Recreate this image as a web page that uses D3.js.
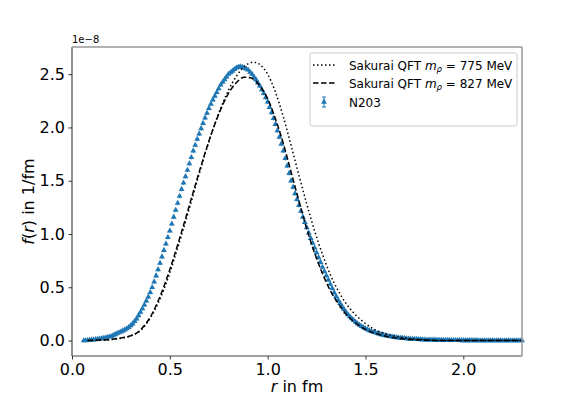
<!DOCTYPE html>
<html>
<head>
<meta charset="utf-8">
<script src="https://cdn.jsdelivr.net/npm/d3@7"></script>
<style>
body { margin: 0; background: #fff; }
text { font-family: "DejaVu Sans", sans-serif; fill: #000; }
</style>
</head>
<body>
<div id="graph"></div>
<script>
// N203 lattice data (units of 1e-8)
const rN203 = [
	0.06,0.07,0.08,0.09,0.10,0.11,0.12,0.13,0.14,0.15,
	0.16,0.17,0.18,0.19,0.20,0.21,0.22,0.23,0.24,0.25,
	0.26,0.27,0.28,0.29,0.30,0.31,0.32,0.33,0.34,0.35,
	0.36,0.37,0.38,0.39,0.40,0.41,0.42,0.43,0.44,0.45,
	0.46,0.47,0.48,0.49,0.50,0.51,0.52,0.53,0.54,0.55,
	0.56,0.57,0.58,0.59,0.60,0.61,0.62,0.63,0.64,0.65,
	0.66,0.67,0.68,0.69,0.70,0.71,0.72,0.73,0.74,0.75,
	0.76,0.77,0.78,0.79,0.80,0.81,0.82,0.83,0.84,0.85,
	0.86,0.87,0.88,0.89,0.90,0.91,0.92,0.93,0.94,0.95,
	0.96,0.97,0.98,0.99,1.00,1.01,1.02,1.03,1.04,1.05,
	1.06,1.07,1.08,1.09,1.10,1.11,1.12,1.13,1.14,1.15,
	1.16,1.17,1.18,1.19,1.20,1.21,1.22,1.23,1.24,1.25,
	1.26,1.27,1.28,1.29,1.30,1.31,1.32,1.33,1.34,1.35,
	1.36,1.37,1.38,1.39,1.40,1.41,1.42,1.43,1.44,1.45,
	1.46,1.47,1.48,1.49,1.50,1.51,1.52,1.53,1.54,1.55,
	1.56,1.57,1.58,1.59,1.60,1.61,1.62,1.63,1.64,1.65,
	1.66,1.67,1.68,1.69,1.70,1.71,1.72,1.73,1.74,1.75,
	1.76,1.77,1.78,1.79,1.80,1.81,1.82,1.83,1.84,1.85,
	1.86,1.87,1.88,1.89,1.90,1.91,1.92,1.93,1.94,1.95,
	1.96,1.97,1.98,1.99,2.00,2.01,2.02,2.03,2.04,2.05,
	2.06,2.07,2.08,2.09,2.10,2.11,2.12,2.13,2.14,2.15,
	2.16,2.17,2.18,2.19,2.20,2.21,2.22,2.23,2.24,2.25,
	2.26,2.27,2.28,2.29,2.30
];
const fN203 = [
	0.000,0.000,0.002,0.004,0.006,0.008,0.010,0.013,0.016,0.019,
	0.022,0.026,0.030,0.035,0.040,0.048,0.057,0.066,0.075,0.083,
	0.092,0.101,0.112,0.124,0.140,0.158,0.180,0.205,0.235,0.267,
	0.300,0.335,0.372,0.410,0.452,0.500,0.552,0.608,0.667,0.727,
	0.787,0.848,0.908,0.969,1.030,1.095,1.160,1.225,1.290,1.355,
	1.420,1.480,1.540,1.600,1.660,1.720,1.780,1.835,1.890,1.940,
	1.990,2.040,2.090,2.135,2.180,2.220,2.260,2.295,2.330,2.365,
	2.400,2.425,2.450,2.475,2.500,2.515,2.530,2.545,2.560,2.567,
	2.570,2.567,2.560,2.550,2.540,2.520,2.500,2.475,2.450,2.420,
	2.390,2.355,2.320,2.280,2.240,2.190,2.140,2.085,2.030,1.970,
	1.910,1.845,1.780,1.710,1.640,1.570,1.500,1.440,1.380,1.325,
	1.270,1.215,1.160,1.110,1.060,1.010,0.960,0.915,0.870,0.825,
	0.780,0.735,0.690,0.650,0.610,0.570,0.530,0.490,0.450,0.415,
	0.380,0.350,0.320,0.293,0.268,0.245,0.225,0.206,0.189,0.173,
	0.158,0.145,0.133,0.122,0.112,0.103,0.095,0.087,0.080,0.074,
	0.068,0.062,0.057,0.052,0.048,0.044,0.040,0.037,0.034,0.031,
	0.028,0.026,0.024,0.022,0.020,0.018,0.016,0.015,0.014,0.013,
	0.012,0.011,0.010,0.009,0.008,0.007,0.007,0.006,0.006,0.005,
	0.005,0.004,0.004,0.004,0.003,0.003,0.003,0.003,0.002,0.002,
	0.002,0.002,0.002,0.001,0.001,0.001,0.001,0.001,0.001,0.001,
	0.001,0.001,0,0,0,0,0,0,0,0,
	0,0,0,0,0,0,0,0,0,0,
	0,0,0,0,0
];
const eN203 = [
	0.01,0.01,0.01,0.01,0.01,0.01,0.01,0.01,0.01,0.01,
	0.01,0.01,0.01,0.01,0.01,0.01,0.01,0.01,0.01,0.01,
	0.02,0.02,0.02,0.02,0.02,0.02,0.02,0.02,0.02,0.02,
	0.02,0.02,0.02,0.02,0.02,0.02,0.02,0.02,0.02,0.02,
	0.02,0.02,0.02,0.02,0.02,0.02,0.02,0.02,0.02,0.02,
	0.02,0.02,0.02,0.02,0.02,0.02,0.02,0.02,0.02,0.02,
	0.02,0.02,0.02,0.02,0.02,0.02,0.02,0.02,0.02,0.02,
	0.02,0.02,0.02,0.02,0.02,0.02,0.02,0.02,0.02,0.02,
	0.02,0.02,0.02,0.02,0.02,0.02,0.02,0.02,0.02,0.02,
	0.02,0.02,0.02,0.02,0.02,0.02,0.02,0.02,0.02,0.02,
	0.02,0.02,0.02,0.02,0.02,0.02,0.02,0.02,0.02,0.02,
	0.02,0.02,0.02,0.02,0.02,0.02,0.02,0.02,0.02,0.02,
	0.02,0.02,0.02,0.02,0.02,0.02,0.02,0.02,0.02,0.02,
	0.02,0.02,0.02,0.02,0.02,0.02,0.02,0.02,0.02,0.02,
	0.01,0.01,0.01,0.01,0.01,0.01,0.01,0.01,0.01,0.01,
	0.01,0.01,0.01,0.01,0.01,0.01,0.01,0.01,0.01,0.01,
	0.01,0.01,0.01,0.01,0.01,0.01,0.01,0.01,0.01,0.01,
	0.01,0.01,0.01,0.01,0.01,0.01,0.01,0.01,0.01,0.01,
	0.01,0.01,0.01,0.01,0.01,0.01,0.01,0.01,0.01,0.01,
	0.01,0.01,0.01,0.01,0.01,0.01,0.01,0.01,0.01,0.01,
	0.01,0.01,0.01,0.01,0.01,0.01,0.01,0.01,0.01,0.01,
	0.01,0.01,0.01,0.01,0.01,0.01,0.01,0.01,0.01,0.01,
	0.01,0.01,0.01,0.01,0.01
];

// Sakurai QFT, m_rho = 775 MeV
const rSak775 = [0.08,0.20,0.30,0.36,0.40,0.44,0.48,0.52,0.56,0.60,0.64,0.68,0.72,0.76,0.80,0.84,0.88,0.92,0.94,0.96,
	1.00,1.04,1.08,1.12,1.16,1.20,1.24,1.28,1.32,1.36,1.40,1.45,1.50,1.55,1.60,1.70,1.80,1.90,2.30];
const fSak775 = [0.00,0.01,0.045,0.11,0.21,0.35,0.53,0.75,0.99,1.24,1.50,1.75,1.98,2.18,2.35,2.48,2.57,2.61,2.61,2.59,
	2.50,2.33,2.10,1.83,1.55,1.28,1.03,0.81,0.62,0.47,0.35,0.24,0.16,0.10,0.065,0.025,0.008,0.0,0.0];

// Sakurai QFT, m_rho = 827 MeV
const rSak827 = [0.08,0.15,0.20,0.25,0.30,0.33,0.36,0.40,0.44,0.48,0.52,0.56,0.60,0.64,0.68,0.72,0.76,0.80,0.84,0.88,0.90,0.92,0.96,
	1.00,1.04,1.08,1.12,1.16,1.20,1.24,1.28,1.32,1.36,1.40,1.45,1.50,1.55,1.60,1.70,1.80,1.90,2.30];
const fSak827 = [0.00,0.005,0.01,0.025,0.045,0.07,0.12,0.22,0.37,0.56,0.78,1.02,1.27,1.52,1.76,1.98,2.17,2.32,2.42,2.47,2.47,2.46,2.39,
	2.27,2.08,1.85,1.58,1.31,1.05,0.82,0.63,0.47,0.35,0.25,0.165,0.105,0.068,0.042,0.015,0.005,0.0,0.0];

const xTicks = [0, 0.5, 1, 1.5, 2];
const yTicks = [0, 0.5, 1, 1.5, 2, 2.5];
const legendNames = ["775", "827", "N203"];

const margin = {top: 47, right: 59, bottom: 51, left: 72},
	width = 581 - margin.left - margin.right,
	height = 407 - margin.top - margin.bottom;

const blue = "#1f77b4";

const xScale = d3.scaleLinear().domain([0, 2.3]).range([0, width]);
const yScale = d3.scaleLinear().domain([-0.145, 2.755]).range([height, 0]);

const svg = d3.select("#graph")
	.append("svg")
	.attr("width", 581)
	.attr("height", 407)
	.style("display", "block")
	.append("g")
	.attr("transform", "translate(" + margin.left + "," + margin.top + ")");

// axes
const xAxis = d3.axisBottom(xScale).tickValues(xTicks).tickFormat(d3.format(".1f")).tickSize(3.5).tickPadding(4);
const yAxis = d3.axisLeft(yScale).tickValues(yTicks).tickFormat(d3.format(".1f")).tickSize(3.5).tickPadding(3.5);

const gx = svg.append("g")
	.attr("transform", "translate(0," + height + ")")
	.call(xAxis);
const gy = svg.append("g").call(yAxis);
[gx, gy].forEach(g => {
	g.select(".domain").remove();
	g.selectAll("line").attr("stroke", "#000").attr("stroke-width", 0.8);
	g.selectAll("text").style("font-size", "16px").style("font-family", "DejaVu Sans, sans-serif");
});

// N203 data with error bars
const n203 = rN203.map((r, i) => ({r: r, f: fN203[i], e: eN203[i]}));

const plot = svg.append("g");

plot.selectAll(".err")
	.data(n203)
	.enter().append("line")
	.attr("x1", d => xScale(d.r))
	.attr("x2", d => xScale(d.r))
	.attr("y1", d => yScale(d.f - d.e))
	.attr("y2", d => yScale(d.f + d.e))
	.attr("stroke", blue)
	.attr("stroke-width", 1);

plot.selectAll(".pt")
	.data(n203)
	.enter().append("path")
	.attr("d", d3.symbol(d3.symbolTriangle).size(15))
	.attr("transform", d => "translate(" + xScale(d.r) + "," + yScale(d.f) + ")")
	.attr("fill", blue);

// Sakurai lines
const line = d3.line()
	.x(d => xScale(d[0]))
	.y(d => yScale(d[1]))
	.curve(d3.curveMonotoneX);

plot.append("path")
	.datum(rSak827.map((r, i) => [r, fSak827[i]]))
	.attr("d", line)
	.attr("fill", "none")
	.attr("stroke", "#000")
	.attr("stroke-width", 1.5)
	.attr("stroke-dasharray", "5.5,2.5");

plot.append("path")
	.datum(rSak775.map((r, i) => [r, fSak775[i]]))
	.attr("d", line)
	.attr("fill", "none")
	.attr("stroke", "#000")
	.attr("stroke-width", 1.5)
	.attr("stroke-dasharray", "1.5,2.5");

// spines
svg.append("line").attr("x1", 0).attr("x2", 0).attr("y1", 0).attr("y2", height)
	.attr("stroke", "#222").attr("stroke-width", 1);
svg.append("line").attr("x1", 0).attr("x2", width).attr("y1", height).attr("y2", height)
	.attr("stroke", "#444").attr("stroke-width", 1);
svg.append("line").attr("x1", 0).attr("x2", width).attr("y1", 0).attr("y2", 0)
	.attr("stroke", "#999").attr("stroke-width", 1.5);
svg.append("line").attr("x1", width).attr("x2", width).attr("y1", 0).attr("y2", height)
	.attr("stroke", "#999").attr("stroke-width", 1.5);

// offset text
svg.append("text")
	.attr("x", 0)
	.attr("y", -4)
	.style("font-size", "10px")
	.text("1e\u22128");

// axis titles
const xt = svg.append("text")
	.attr("x", width / 2)
	.attr("y", height + 36)
	.attr("text-anchor", "middle")
	.style("font-size", "16px");
xt.append("tspan").style("font-style", "italic").text("r");
xt.append("tspan").text(" in fm");

const yt = svg.append("text")
	.attr("transform", "rotate(-90)")
	.attr("x", -height / 2)
	.attr("y", -38)
	.attr("text-anchor", "middle")
	.style("font-size", "16px");
yt.append("tspan").style("font-style", "italic").text("f");
yt.append("tspan").text("(");
yt.append("tspan").style("font-style", "italic").text("r");
yt.append("tspan").text(") in 1/fm");

// legend
const lg = svg.append("g").attr("transform", "translate(" + (310 - margin.left) + "," + (53 - margin.top) + ")");
lg.append("rect")
	.attr("width", 207)
	.attr("height", 73)
	.attr("rx", 2)
	.attr("fill", "#fff")
	.attr("fill-opacity", 0.8)
	.attr("stroke", "#ccc")
	.attr("stroke-width", 1);

const rowY = [12, 30, 49];
lg.append("line").attr("x1", 3).attr("x2", 27).attr("y1", rowY[0]).attr("y2", rowY[0])
	.attr("stroke", "#000").attr("stroke-width", 1.5).attr("stroke-dasharray", "1.5,2.5");
lg.append("line").attr("x1", 3).attr("x2", 27).attr("y1", rowY[1]).attr("y2", rowY[1])
	.attr("stroke", "#000").attr("stroke-width", 1.5).attr("stroke-dasharray", "5.5,2.5");
lg.append("line").attr("x1", 14).attr("x2", 14).attr("y1", rowY[2] - 5).attr("y2", rowY[2] + 5)
	.attr("stroke", blue).attr("stroke-width", 1);
lg.append("line").attr("x1", 12).attr("x2", 16).attr("y1", rowY[2] - 5).attr("y2", rowY[2] - 5)
	.attr("stroke", blue).attr("stroke-width", 1);
lg.append("line").attr("x1", 12).attr("x2", 16).attr("y1", rowY[2] + 5).attr("y2", rowY[2] + 5)
	.attr("stroke", blue).attr("stroke-width", 1);
lg.append("path")
	.attr("d", d3.symbol(d3.symbolTriangle).size(15))
	.attr("transform", "translate(14," + rowY[2] + ")")
	.attr("fill", blue);

legendNames.forEach((name, i) => {
	const t = lg.append("text")
		.attr("x", 39)
		.attr("y", rowY[i] + 4.5)
		.style("font-size", "12px");
	if (name === "N203") {
		t.text(name);
	} else {
		t.append("tspan").text("Sakurai QFT ");
		t.append("tspan").style("font-style", "italic").text("m");
		t.append("tspan").style("font-style", "italic").style("font-size", "8.5px").attr("dy", 2.5).text("\u03c1");
		t.append("tspan").attr("dy", -2.5).text(" = " + name + " MeV");
	}
});
</script>
</body>
</html>
